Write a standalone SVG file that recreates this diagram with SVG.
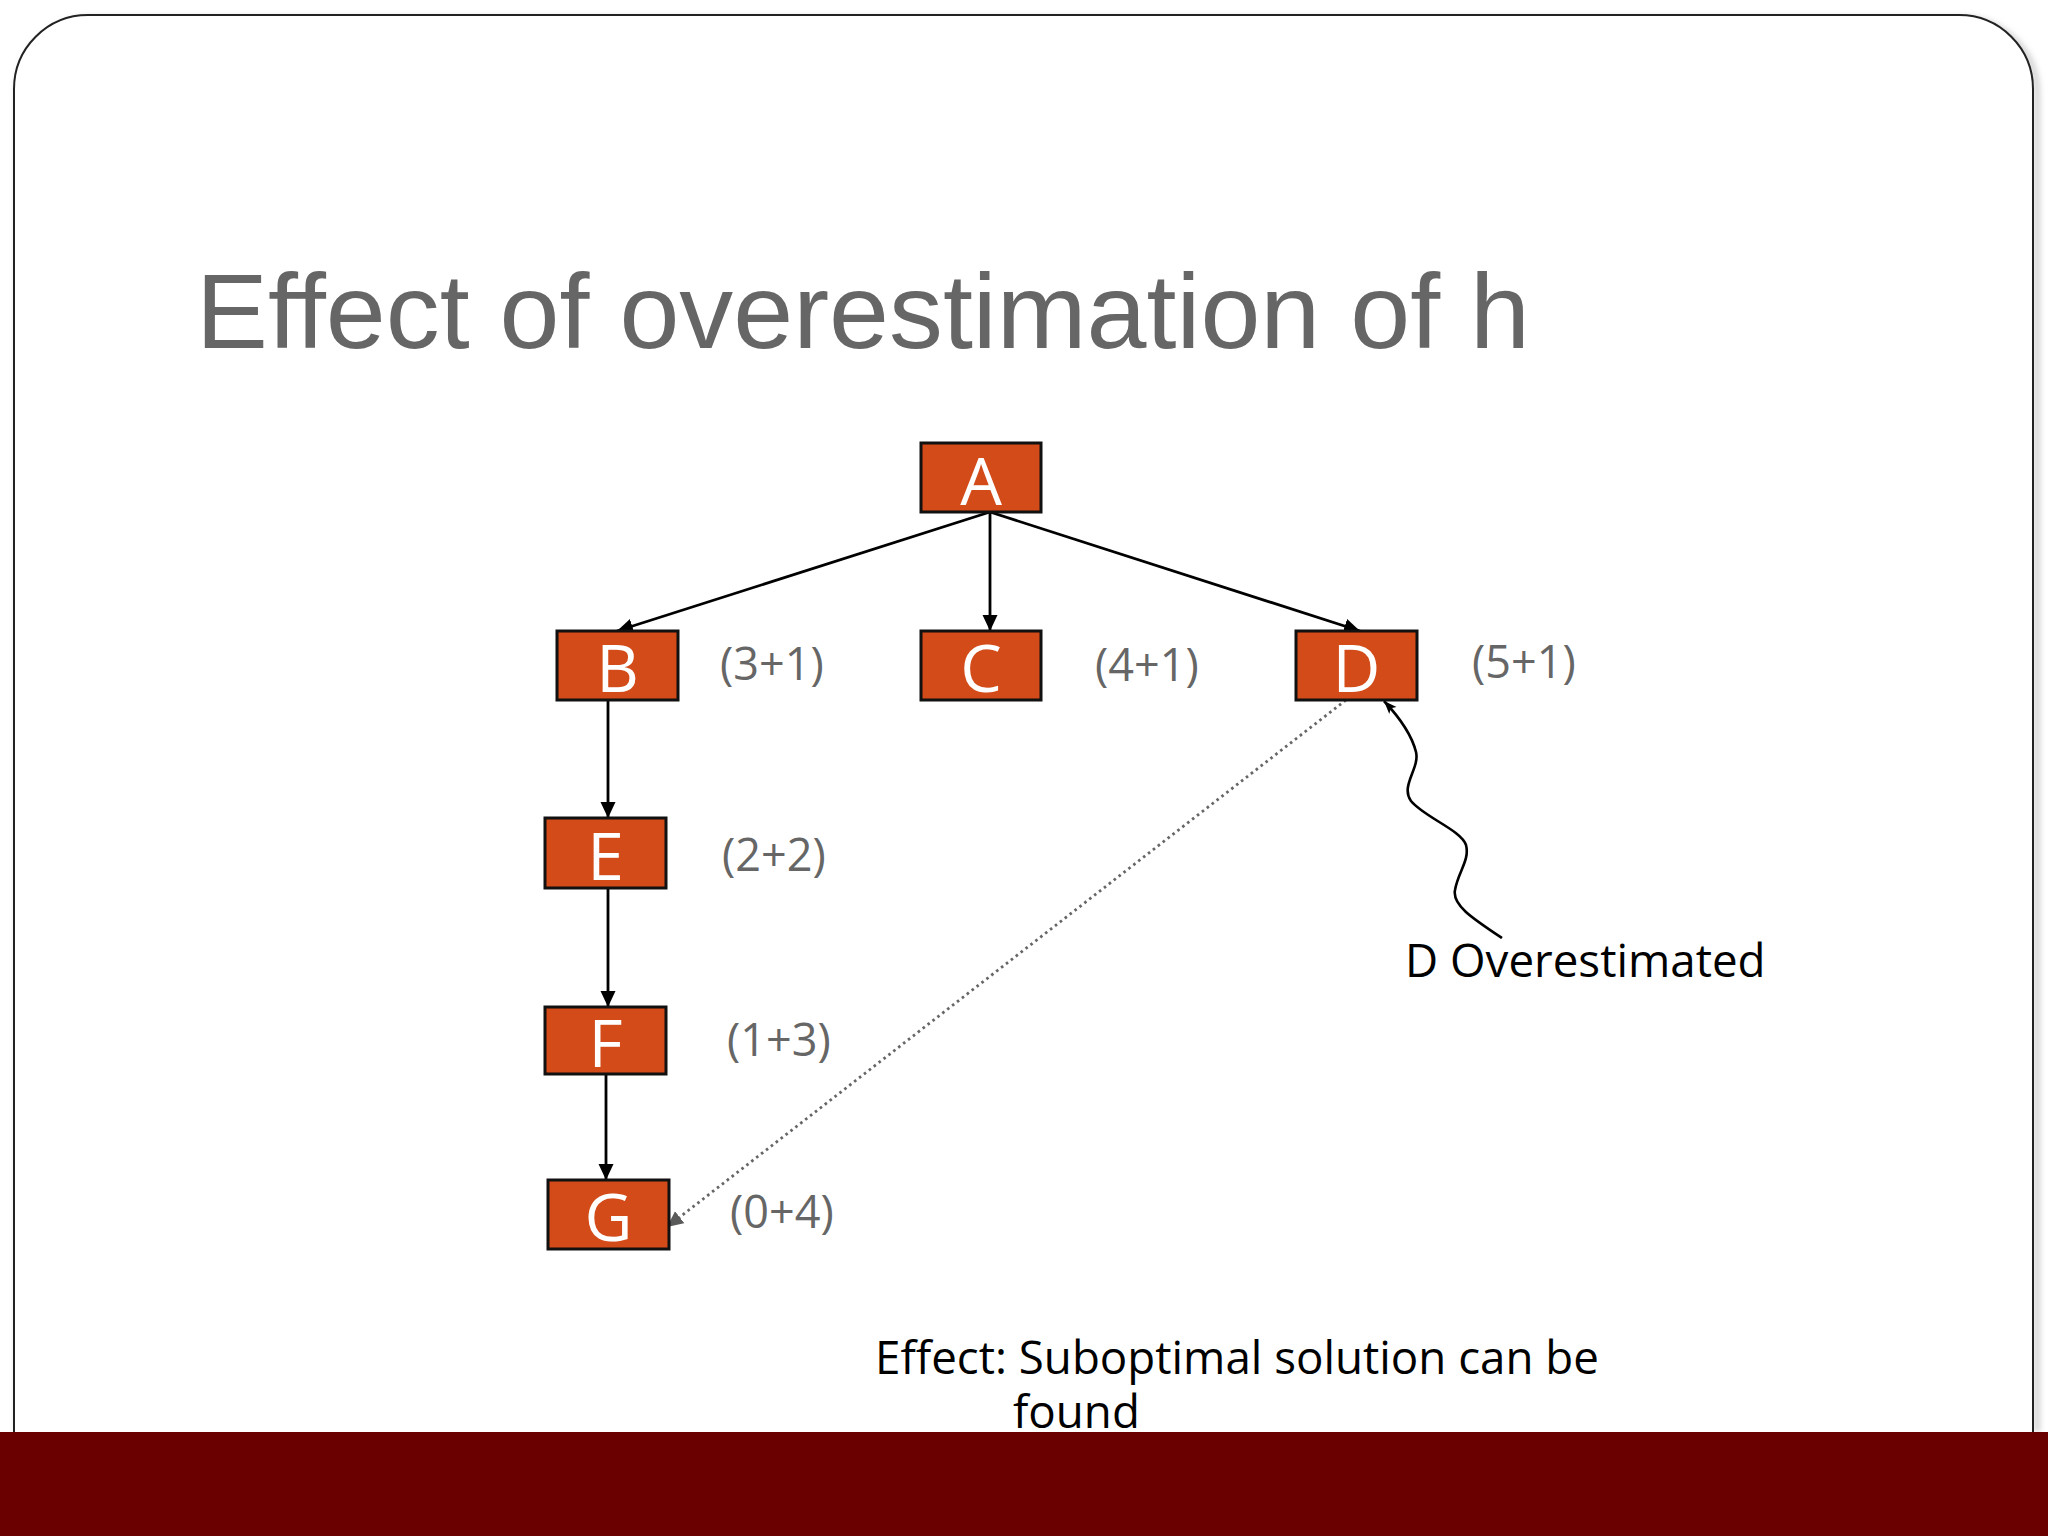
<svg xmlns="http://www.w3.org/2000/svg" width="2048" height="1536" viewBox="0 0 2048 1536">
  <style>
    .node rect { fill: #D24B19; stroke: #111; stroke-width: 3; }
    .node text { fill: #ffffff; font-family: "Open Sans", "Noto Sans", sans-serif; font-size: 66px; text-anchor: middle; }
    .lbl { fill: #666666; font-family: "Open Sans", "Noto Sans", sans-serif; font-size: 45px; }
    .edge { stroke: #000; stroke-width: 2.8; fill: none; marker-end: url(#arr); }
    .note { fill: #000; font-family: "Open Sans", "Noto Sans", sans-serif; font-size: 45.7px; }
  </style>
  <defs>
    <marker id="arr" markerUnits="userSpaceOnUse" markerWidth="16" markerHeight="16" refX="16" refY="7.5" orient="auto">
      <path d="M0,0 L16,7.5 L0,15 z" fill="#000"/>
    </marker>
    <marker id="arrGray" markerUnits="userSpaceOnUse" markerWidth="16" markerHeight="16" refX="16" refY="7.5" orient="auto">
      <path d="M0,0 L16,7.5 L0,15 z" fill="#5a5a5a"/>
    </marker>
    <marker id="arrSmall" markerUnits="userSpaceOnUse" markerWidth="14" markerHeight="12" refX="13" refY="5" orient="auto">
      <path d="M0,0 L13,5 L0,10 L3,5 z" fill="#000"/>
    </marker>
    <filter id="shadow" x="-5%" y="-5%" width="110%" height="110%">
      <feGaussianBlur stdDeviation="3"/>
    </filter>
  </defs>

  <rect x="0" y="0" width="2048" height="1536" fill="#ffffff"/>

  <!-- slide frame -->
  <g id="frame">
    <path d="M18,1432 L18,92 A74,74 0 0 1 92,19 L1962,19 A74,74 0 0 1 2037,92 L2037,1432" fill="none" stroke="#bbbbbb" stroke-width="4" filter="url(#shadow)"/>
    <path d="M14,1432 L14,89 A74,74 0 0 1 88,15 L1959,15 A74,74 0 0 1 2033,89 L2033,1432" fill="#ffffff" stroke="#222" stroke-width="2"/>
  </g>

  <text id="title" x="196" y="348" font-family="'Liberation Sans', Arial, sans-serif" font-size="106" fill="#666666" style="font-variant-ligatures: none" textLength="1334" lengthAdjust="spacingAndGlyphs">Effect of overestimation of h</text>

  <g id="connectors">
    <path class="edge" d="M990,512 L617,631"/>
    <path class="edge" d="M990,512 L990,631"/>
    <path class="edge" d="M990,512 L1360,631"/>
    <path class="edge" d="M608,700 L608,818"/>
    <path class="edge" d="M608,888 L608,1007"/>
    <path class="edge" d="M606,1074 L606,1180"/>
    <path d="M1346,700 L667,1227" stroke="#666" stroke-width="2.8" stroke-dasharray="2.6 3.6" fill="none" marker-end="url(#arrGray)"/>
    <path d="M1502,938 C1472,918 1452,905 1455,890 C1458,872 1470,860 1466,845 C1461,830 1424,817 1411,801 C1400,786 1420,768 1416,752 C1412,736 1400,718 1384,701" stroke="#000" stroke-width="2.6" fill="none" marker-end="url(#arrSmall)"/>
  </g>

  <g id="node-A" class="node"><rect x="921" y="443" width="120" height="69"/><text x="981" y="505">A</text></g>
  <g id="node-B" class="node"><rect x="557" y="631" width="121" height="69"/><text x="617.5" y="692">B</text></g>
  <g id="node-C" class="node"><rect x="921" y="631" width="120" height="69"/><text x="981" y="692">C</text></g>
  <g id="node-D" class="node"><rect x="1296" y="631" width="121" height="69"/><text x="1356.5" y="692">D</text></g>
  <g id="node-E" class="node"><rect x="545" y="818" width="121" height="70"/><text x="605.5" y="880">E</text></g>
  <g id="node-F" class="node"><rect x="545" y="1007" width="121" height="67"/><text x="605.5" y="1067">F</text></g>
  <g id="node-G" class="node"><rect x="548" y="1180" width="121" height="69"/><text x="608.5" y="1241">G</text></g>

  <g id="labels">
    <text class="lbl" x="720" y="680">(3+1)</text>
    <text class="lbl" x="1095" y="681">(4+1)</text>
    <text class="lbl" x="1472" y="678">(5+1)</text>
    <text class="lbl" x="722" y="871">(2+2)</text>
    <text class="lbl" x="727" y="1056">(1+3)</text>
    <text class="lbl" x="730" y="1228">(0+4)</text>
  </g>

  <text id="note-d" class="note" x="1405" y="977" font-size="45">D Overestimated</text>
  <g id="note-effect">
    <text class="note" x="875" y="1374">Effect: Suboptimal solution can be</text>
    <text class="note" x="1013" y="1428">found</text>
  </g>

  <rect id="band" x="0" y="1432" width="2048" height="104" fill="#6B0000"/>
</svg>
